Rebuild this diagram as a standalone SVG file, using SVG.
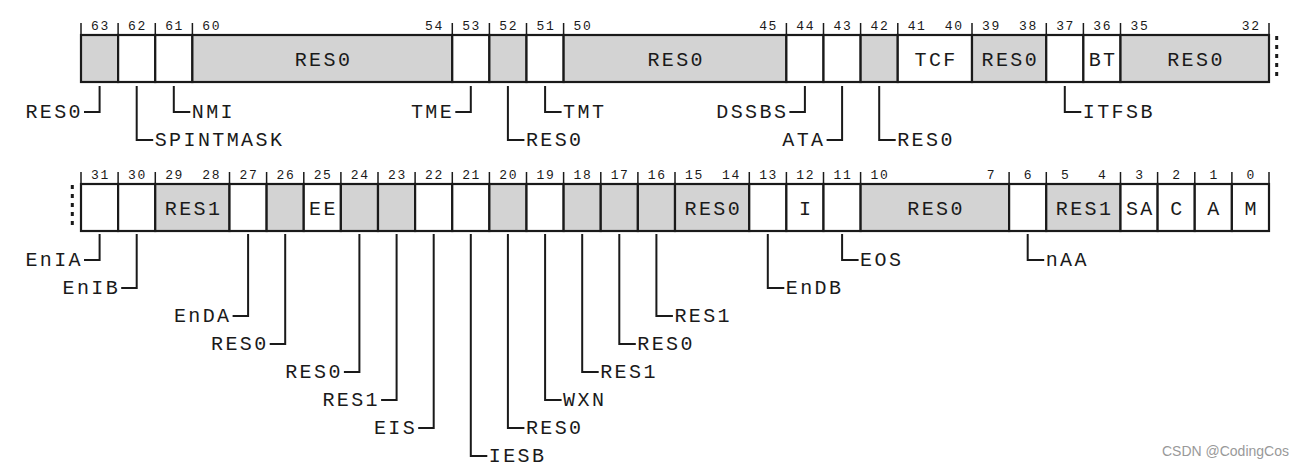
<svg xmlns="http://www.w3.org/2000/svg" width="1306" height="471" viewBox="0 0 1306 471">
<style>
rect{stroke:#1a1a1a;stroke-width:2.2}
.g{fill:#d3d3d3}
.w{fill:#ffffff}
.num{font-family:"Liberation Mono",monospace;font-size:13px;letter-spacing:1.6px;text-anchor:middle;fill:#1a1a1a}
.lbl{font-family:"Liberation Mono",monospace;font-size:20px;letter-spacing:2.4px;fill:#1a1a1a}
.in{text-anchor:middle}
.end{text-anchor:end}
.tick{stroke:#1a1a1a;stroke-width:1.5}
.lead{fill:none;stroke:#1a1a1a;stroke-width:2}
.dots{stroke:#1a1a1a;stroke-width:3;stroke-dasharray:4 5}
.wm{font-family:"Liberation Sans",Arial,sans-serif;font-size:14px;fill:#999;text-anchor:end}
</style>
<rect x="0" y="0" width="1306" height="471" style="fill:#fff;stroke:none"/>
<!-- Row 1: bits 63..32 -->
<g id="row1-ticks">
<path class="tick" d="M81,23V35M118.1,23V35M155.3,23V35M192.4,23V35M452.3,23V35M489.4,23V35M526.5,23V35M563.6,23V35M786.4,23V35M823.5,23V35M860.6,23V35M897.8,23V35M972,23V35M1046.3,23V35M1083.4,23V35M1120.5,23V35M1269,23V35"/>
</g>
<g id="b63"><rect class="g" x="81" y="35" width="37.125" height="47"/><text class="num" x="100.4" y="30">63</text><text class="lbl end" x="83" y="118">RES0</text></g>
<g id="b62"><rect class="w" x="118.125" y="35" width="37.125" height="47"/><text class="num" x="137.5" y="30">62</text><text class="lbl" x="154.7" y="146">SPINTMASK</text></g>
<g id="b61"><rect class="w" x="155.25" y="35" width="37.125" height="47"/><text class="num" x="174.6" y="30">61</text><text class="lbl" x="191.8" y="118">NMI</text></g>
<g id="b60_54"><rect class="g" x="192.375" y="35" width="259.875" height="47"/><text class="num" x="211.7" y="30">60</text><text class="num" x="434.5" y="30">54</text><text class="lbl in" x="323.5" y="66">RES0</text></g>
<g id="b53"><rect class="w" x="452.25" y="35" width="37.125" height="47"/><text class="num" x="471.6" y="30">53</text><text class="lbl end" x="454.2" y="118">TME</text></g>
<g id="b52"><rect class="g" x="489.375" y="35" width="37.125" height="47"/><text class="num" x="508.7" y="30">52</text><text class="lbl" x="525.9" y="146">RES0</text></g>
<g id="b51"><rect class="w" x="526.5" y="35" width="37.125" height="47"/><text class="num" x="545.9" y="30">51</text><text class="lbl" x="563.1" y="118">TMT</text></g>
<g id="b50_45"><rect class="g" x="563.625" y="35" width="222.75" height="47"/><text class="num" x="583" y="30">50</text><text class="num" x="768.6" y="30">45</text><text class="lbl in" x="676.2" y="66">RES0</text></g>
<g id="b44"><rect class="w" x="786.375" y="35" width="37.125" height="47"/><text class="num" x="805.7" y="30">44</text><text class="lbl end" x="788.3" y="118">DSSBS</text></g>
<g id="b43"><rect class="w" x="823.5" y="35" width="37.125" height="47"/><text class="num" x="842.9" y="30">43</text><text class="lbl end" x="825.5" y="146">ATA</text></g>
<g id="b42"><rect class="g" x="860.625" y="35" width="37.125" height="47"/><text class="num" x="880" y="30">42</text><text class="lbl" x="897.2" y="146">RES0</text></g>
<g id="b41_40"><rect class="w" x="897.75" y="35" width="74.25" height="47"/><text class="num" x="917.1" y="30">41</text><text class="num" x="954.2" y="30">40</text><text class="lbl in" x="936.1" y="66">TCF</text></g>
<g id="b39_38"><rect class="g" x="972" y="35" width="74.25" height="47"/><text class="num" x="991.4" y="30">39</text><text class="num" x="1028.5" y="30">38</text><text class="lbl in" x="1010.3" y="66">RES0</text></g>
<g id="b37"><rect class="w" x="1046.25" y="35" width="37.125" height="47"/><text class="num" x="1065.6" y="30">37</text><text class="lbl" x="1082.8" y="118">ITFSB</text></g>
<g id="b36"><rect class="w" x="1083.375" y="35" width="37.125" height="47"/><text class="num" x="1102.7" y="30">36</text><text class="lbl in" x="1103.1" y="66">BT</text></g>
<g id="b35_32"><rect class="g" x="1120.5" y="35" width="148.5" height="47"/><text class="num" x="1139.9" y="30">35</text><text class="num" x="1251.2" y="30">32</text><text class="lbl in" x="1196" y="66">RES0</text></g>
<line class="dots" x1="1276.7" y1="36" x2="1276.7" y2="77"/>
<!-- Row 2: bits 31..0 -->
<g id="row2-ticks">
<path class="tick" d="M81,172V184M118.1,172V184M155.3,172V184M229.5,172V184M266.6,172V184M303.8,172V184M340.9,172V184M378,172V184M415.1,172V184M452.3,172V184M489.4,172V184M526.5,172V184M563.6,172V184M600.8,172V184M637.9,172V184M675,172V184M749.3,172V184M786.4,172V184M823.5,172V184M860.6,172V184M1009.1,172V184M1046.3,172V184M1120.5,172V184M1157.6,172V184M1194.8,172V184M1231.9,172V184M1269,172V184"/>
</g>
<line class="dots" x1="72.3" y1="185" x2="72.3" y2="226"/>
<g id="b31"><rect class="w" x="81" y="184" width="37.125" height="47"/><text class="num" x="100.4" y="179">31</text><text class="lbl end" x="83" y="266">EnIA</text></g>
<g id="b30"><rect class="w" x="118.125" y="184" width="37.125" height="47"/><text class="num" x="137.5" y="179">30</text><text class="lbl end" x="120.1" y="294">EnIB</text></g>
<g id="b29_28"><rect class="g" x="155.25" y="184" width="74.25" height="47"/><text class="num" x="174.6" y="179">29</text><text class="num" x="211.7" y="179">28</text><text class="lbl in" x="193.6" y="215">RES1</text></g>
<g id="b27"><rect class="w" x="229.5" y="184" width="37.125" height="47"/><text class="num" x="248.9" y="179">27</text><text class="lbl end" x="231.5" y="322">EnDA</text></g>
<g id="b26"><rect class="g" x="266.625" y="184" width="37.125" height="47"/><text class="num" x="286" y="179">26</text><text class="lbl end" x="268.6" y="350">RES0</text></g>
<g id="b25"><rect class="w" x="303.75" y="184" width="37.125" height="47"/><text class="num" x="323.1" y="179">25</text><text class="lbl in" x="323.5" y="215">EE</text></g>
<g id="b24"><rect class="g" x="340.875" y="184" width="37.125" height="47"/><text class="num" x="360.2" y="179">24</text><text class="lbl end" x="342.8" y="378">RES0</text></g>
<g id="b23"><rect class="g" x="378" y="184" width="37.125" height="47"/><text class="num" x="397.4" y="179">23</text><text class="lbl end" x="380" y="406">RES1</text></g>
<g id="b22"><rect class="w" x="415.125" y="184" width="37.125" height="47"/><text class="num" x="434.5" y="179">22</text><text class="lbl end" x="417.1" y="434">EIS</text></g>
<g id="b21"><rect class="w" x="452.25" y="184" width="37.125" height="47"/><text class="num" x="471.6" y="179">21</text><text class="lbl" x="488.8" y="462">IESB</text></g>
<g id="b20"><rect class="g" x="489.375" y="184" width="37.125" height="47"/><text class="num" x="508.7" y="179">20</text><text class="lbl" x="525.9" y="434">RES0</text></g>
<g id="b19"><rect class="w" x="526.5" y="184" width="37.125" height="47"/><text class="num" x="545.9" y="179">19</text><text class="lbl" x="563.1" y="406">WXN</text></g>
<g id="b18"><rect class="g" x="563.625" y="184" width="37.125" height="47"/><text class="num" x="583" y="179">18</text><text class="lbl" x="600.2" y="378">RES1</text></g>
<g id="b17"><rect class="g" x="600.75" y="184" width="37.125" height="47"/><text class="num" x="620.1" y="179">17</text><text class="lbl" x="637.3" y="350">RES0</text></g>
<g id="b16"><rect class="g" x="637.875" y="184" width="37.125" height="47"/><text class="num" x="657.2" y="179">16</text><text class="lbl" x="674.4" y="322">RES1</text></g>
<g id="b15_14"><rect class="g" x="675" y="184" width="74.25" height="47"/><text class="num" x="694.4" y="179">15</text><text class="num" x="731.5" y="179">14</text><text class="lbl in" x="713.3" y="215">RES0</text></g>
<g id="b13"><rect class="w" x="749.25" y="184" width="37.125" height="47"/><text class="num" x="768.6" y="179">13</text><text class="lbl" x="785.8" y="294">EnDB</text></g>
<g id="b12"><rect class="w" x="786.375" y="184" width="37.125" height="47"/><text class="num" x="805.7" y="179">12</text><text class="lbl in" x="806.1" y="215">I</text></g>
<g id="b11"><rect class="w" x="823.5" y="184" width="37.125" height="47"/><text class="num" x="842.9" y="179">11</text><text class="lbl" x="860.1" y="266">EOS</text></g>
<g id="b10_7"><rect class="g" x="860.625" y="184" width="148.5" height="47"/><text class="num" x="880" y="179">10</text><text class="num" x="991.4" y="179">7</text><text class="lbl in" x="936.1" y="215">RES0</text></g>
<g id="b6"><rect class="w" x="1009.125" y="184" width="37.125" height="47"/><text class="num" x="1028.5" y="179">6</text><text class="lbl" x="1045.7" y="266">nAA</text></g>
<g id="b5_4"><rect class="g" x="1046.25" y="184" width="74.25" height="47"/><text class="num" x="1065.6" y="179">5</text><text class="num" x="1102.7" y="179">4</text><text class="lbl in" x="1084.6" y="215">RES1</text></g>
<g id="b3"><rect class="w" x="1120.5" y="184" width="37.125" height="47"/><text class="num" x="1139.9" y="179">3</text><text class="lbl in" x="1140.3" y="215">SA</text></g>
<g id="b2"><rect class="w" x="1157.625" y="184" width="37.125" height="47"/><text class="num" x="1177" y="179">2</text><text class="lbl in" x="1177.4" y="215">C</text></g>
<g id="b1"><rect class="w" x="1194.75" y="184" width="37.125" height="47"/><text class="num" x="1214.1" y="179">1</text><text class="lbl in" x="1214.5" y="215">A</text></g>
<g id="b0"><rect class="w" x="1231.875" y="184" width="37.125" height="47"/><text class="num" x="1251.2" y="179">0</text><text class="lbl in" x="1251.6" y="215">M</text></g>
<g id="connectors">
<path class="lead" d="M99.6,86V112H84"/>
<path class="lead" d="M136.7,86V140H153.2"/>
<path class="lead" d="M173.8,86V112H190.3"/>
<path class="lead" d="M470.8,86V112H455.3"/>
<path class="lead" d="M507.9,86V140H524.4"/>
<path class="lead" d="M545.1,86V112H561.6"/>
<path class="lead" d="M804.9,86V112H789.4"/>
<path class="lead" d="M842.1,86V140H826.6"/>
<path class="lead" d="M879.2,86V140H895.7"/>
<path class="lead" d="M1064.8,86V112H1081.3"/>
<path class="lead" d="M99.6,234V260H84"/>
<path class="lead" d="M136.7,234V288H121.2"/>
<path class="lead" d="M248.1,234V316H232.6"/>
<path class="lead" d="M285.2,234V344H269.7"/>
<path class="lead" d="M359.4,234V372H343.9"/>
<path class="lead" d="M396.6,234V400H381.1"/>
<path class="lead" d="M433.7,234V428H418.2"/>
<path class="lead" d="M470.8,234V456H487.3"/>
<path class="lead" d="M507.9,234V428H524.4"/>
<path class="lead" d="M545.1,234V400H561.6"/>
<path class="lead" d="M582.2,234V372H598.7"/>
<path class="lead" d="M619.3,234V344H635.8"/>
<path class="lead" d="M656.4,234V316H672.9"/>
<path class="lead" d="M767.8,234V288H784.3"/>
<path class="lead" d="M842.1,234V260H858.6"/>
<path class="lead" d="M1027.7,234V260H1044.2"/>
</g>
<text class="wm" x="1289" y="456">CSDN @CodingCos</text>
</svg>
